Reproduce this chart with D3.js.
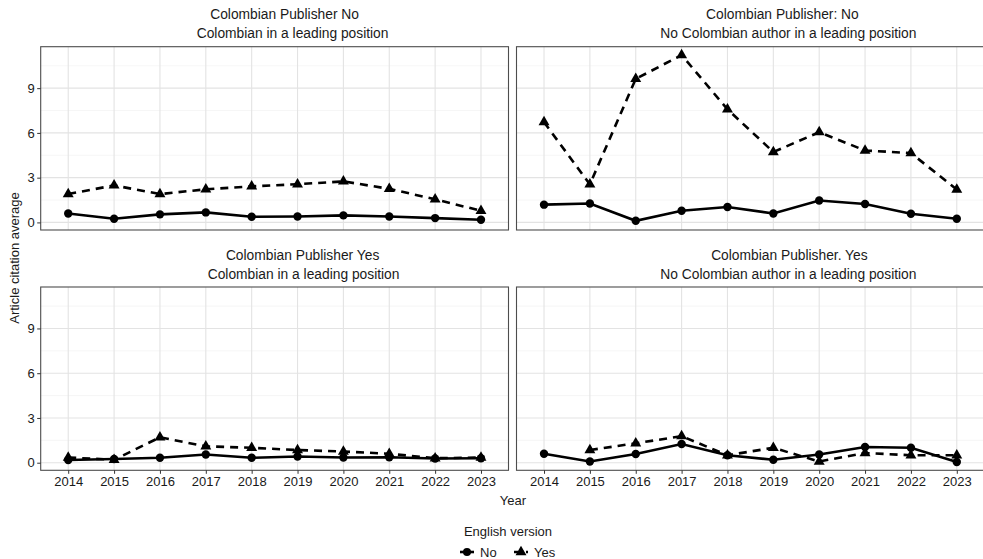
<!DOCTYPE html>
<html>
<head>
<meta charset="utf-8">
<script src="https://cdn.jsdelivr.net/npm/d3@7"></script>
<style>
  body { margin: 0; background: #fff; }
  text { font-family: "Liberation Sans", Arial, sans-serif; fill: #1a1a1a; }
</style>
</head>
<body>
<div id="chart"></div>
<script>
// Data
const years = ['2014','2015','2016','2017','2018','2019','2020','2021','2022','2023']
const seriesNames = ['No', 'Yes']

const stripLine1 = ['Colombian Publisher No', 'Colombian Publisher: No', 'Colombian Publisher Yes', 'Colombian Publisher. Yes']
const stripLine2 = ['Colombian in a leading position', 'No Colombian author in a leading position',
                    'Colombian in a leading position', 'No Colombian author in a leading position']

// English version = No
const noValues = [
  [0.60, 0.25, 0.54, 0.67, 0.38, 0.40, 0.47, 0.40, 0.29, 0.18],
  [1.19, 1.27, 0.11, 0.78, 1.03, 0.60, 1.47, 1.23, 0.58, 0.25],
  [0.18, 0.25, 0.33, 0.55, 0.33, 0.42, 0.35, 0.37, 0.28, 0.30],
  [0.60, 0.08, 0.58, 1.25, 0.50, 0.20, 0.55, 1.05, 1.00, 0.05]
]
// English version = Yes
const yesValues = [
  [1.90, 2.48, 1.90, 2.22, 2.42, 2.56, 2.75, 2.25, 1.55, 0.78],
  [6.72, 2.55, 9.62, 11.22, 7.58, 4.72, 6.05, 4.82, 4.65, 2.20],
  [0.35, 0.20, 1.70, 1.10, 1.00, 0.85, 0.75, 0.60, 0.30, 0.35],
  [null, 0.85, 1.30, 1.78, 0.50, 1.00, 0.08, 0.65, 0.50, 0.50]
]

const yTicks = [0, 3, 6, 9]
const yMinorTicks = [1.5, 4.5, 7.5, 10.5]

// Dimensions
const dimensions = { width: 983, height: 559 }
const cols = [[40.7, 508.5], [516.5, 984.3]]
const rows = [[46.7, 230], [287, 470.3]]
const titleShift = [[10, 18], [32, 38], [28, 29], [39, 38]]
const fontSize = 13

const svg = d3.select('#chart')
  .append('svg')
  .attr('width', dimensions.width)
  .attr('height', dimensions.height)

const allValues = noValues.flat().concat(yesValues.flat()).filter(d => d !== null)
const yLo = d3.min(allValues), yHi = d3.max(allValues)
const yPad = (yHi - yLo) * 0.05

const triangle = d3.symbol().type(d3.symbolTriangle).size(52)

for (let p = 0; p < 4; p++) {
  const col = p % 2, row = Math.floor(p / 2)
  const [x0, x1] = cols[col]
  const [y0, y1] = rows[row]

  const xScale = d3.scalePoint().domain(years).range([x0, x1]).padding(0.6)
  const yScale = d3.scaleLinear().domain([yLo - yPad, yHi + yPad]).range([y1, y0])

  const g = svg.append('g')

  // panel background + grid
  g.append('rect').attr('x', x0).attr('y', y0).attr('width', x1 - x0).attr('height', y1 - y0)
    .attr('fill', '#fff')
  g.selectAll('.minor').data(yMinorTicks).join('line')
    .attr('x1', x0).attr('x2', x1)
    .attr('y1', d => yScale(d)).attr('y2', d => yScale(d))
    .attr('stroke', '#f0f0f0').attr('stroke-width', 0.6)
  g.selectAll('.major').data(yTicks).join('line')
    .attr('x1', x0).attr('x2', x1)
    .attr('y1', d => yScale(d)).attr('y2', d => yScale(d))
    .attr('stroke', '#e3e3e3').attr('stroke-width', 1.1)
  g.selectAll('.vgrid').data(years).join('line')
    .attr('x1', d => xScale(d)).attr('x2', d => xScale(d))
    .attr('y1', y0).attr('y2', y1)
    .attr('stroke', '#e3e3e3').attr('stroke-width', 1.1)

  // strip titles
  const cx = (x0 + x1) / 2
  g.append('text').attr('x', cx + titleShift[p][0]).attr('y', y0 - 27.5)
    .attr('text-anchor', 'middle').attr('font-size', 13.8).text(stripLine1[p])
  g.append('text').attr('x', cx + titleShift[p][1]).attr('y', y0 - 8.5)
    .attr('text-anchor', 'middle').attr('font-size', 13.8).text(stripLine2[p])

  // lines
  const lineGen = d3.line()
    .defined(d => d.v !== null)
    .x(d => xScale(d.year))
    .y(d => yScale(d.v))

  const noData = years.map((year, i) => ({ year, v: noValues[p][i] }))
  const yesData = years.map((year, i) => ({ year, v: yesValues[p][i] }))

  g.append('path').datum(yesData).attr('d', lineGen)
    .attr('fill', 'none').attr('stroke', '#000').attr('stroke-width', 2.6)
    .attr('stroke-dasharray', '8,6')
  g.append('path').datum(noData).attr('d', lineGen)
    .attr('fill', 'none').attr('stroke', '#000').attr('stroke-width', 2.6)

  g.selectAll('.pt-no').data(noData.filter(d => d.v !== null)).join('circle')
    .attr('cx', d => xScale(d.year)).attr('cy', d => yScale(d.v))
    .attr('r', 4.2).attr('fill', '#000')
  g.selectAll('.pt-yes').data(yesData.filter(d => d.v !== null)).join('path')
    .attr('d', triangle)
    .attr('transform', d => `translate(${xScale(d.year)},${yScale(d.v)})`)
    .attr('fill', '#000')

  // border
  g.append('rect').attr('x', x0).attr('y', y0).attr('width', x1 - x0).attr('height', y1 - y0)
    .attr('fill', 'none').attr('stroke', '#4d4d4d').attr('stroke-width', 1.1)

  // axes
  if (col === 0) {
    const yAxis = d3.axisLeft(yScale).tickValues(yTicks).tickSize(3.5).tickPadding(2.5)
    const ax = g.append('g').attr('transform', `translate(${x0},0)`).call(yAxis)
    ax.select('.domain').remove()
    ax.selectAll('.tick line').attr('stroke', '#333')
    ax.selectAll('.tick text').attr('font-size', fontSize).attr('fill', '#333')
      .style('font-family', '"Liberation Sans", Arial, sans-serif')
  }
  if (row === 1) {
    const xAxis = d3.axisBottom(xScale).tickSize(3.5).tickPadding(3)
    const ax = g.append('g').attr('transform', `translate(0,${y1})`).call(xAxis)
    ax.select('.domain').remove()
    ax.selectAll('.tick line').attr('stroke', '#333')
    ax.selectAll('.tick text').attr('font-size', fontSize).attr('fill', '#333')
      .style('font-family', '"Liberation Sans", Arial, sans-serif')
  }
}

// axis titles
svg.append('text').attr('x', 513).attr('y', 505)
  .attr('text-anchor', 'middle').attr('font-size', fontSize).text('Year')
svg.append('text')
  .attr('transform', `translate(19, 258) rotate(-90)`)
  .attr('text-anchor', 'middle').attr('font-size', fontSize).text('Article citation average')

// legend
svg.append('text').attr('x', 508).attr('y', 536)
  .attr('text-anchor', 'middle').attr('font-size', fontSize).text('English version')

const legendX = [460, 514]
seriesNames.forEach((name, i) => {
  const lg = svg.append('g').attr('transform', `translate(${legendX[i]}, 552)`)
  lg.append('line').attr('x1', 0).attr('x2', 14).attr('y1', 0).attr('y2', 0)
    .attr('stroke', '#000').attr('stroke-width', 2.6)
    .attr('stroke-dasharray', i === 1 ? '4,2' : null)
  if (i === 0) lg.append('circle').attr('cx', 7).attr('cy', 0).attr('r', 4).attr('fill', '#000')
  else lg.append('path').attr('d', triangle).attr('transform', 'translate(7,0)').attr('fill', '#000')
  lg.append('text').attr('x', 20).attr('y', 4.5).attr('font-size', fontSize).text(name)
})
</script>
</body>
</html>
